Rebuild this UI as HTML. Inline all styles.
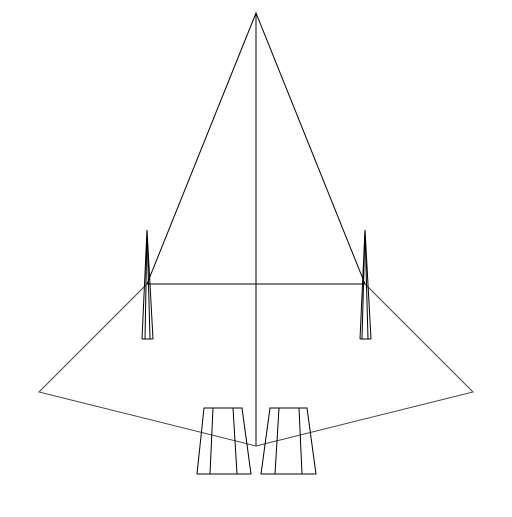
<!DOCTYPE html>
<html><head><style>html,body{margin:0;padding:0;background:#fff}</style></head>
<body>
<svg width="512" height="512" viewBox="0 0 512 512" stroke="#000" stroke-width="1" fill="none">
<g>
<polyline points="147,284 256,13 365,284" />
<line x1="147" y1="284" x2="365" y2="284" />
<line x1="256" y1="13" x2="256" y2="446" />
</g>
<g stroke="#444">
<polyline points="147,284 39,392 256,446" />
</g>
<g stroke="#444">
<polyline points="365,284 473,392 256,446" />
</g>
<g>
<line x1="147" y1="230" x2="142" y2="339"/>
<line x1="147" y1="230" x2="153" y2="339"/>
<line x1="147" y1="230" x2="145" y2="339"/>
<line x1="147" y1="230" x2="150" y2="339"/>
<line x1="142" y1="339" x2="153" y2="339"/>
</g>
<g>
<line x1="365" y1="230" x2="360" y2="339"/>
<line x1="365" y1="230" x2="371" y2="339"/>
<line x1="365" y1="230" x2="362" y2="339"/>
<line x1="365" y1="230" x2="368" y2="339"/>
<line x1="360" y1="339" x2="371" y2="339"/>
</g>
<g>
<polygon points="204,408 242,408 251,474 197,474"/>
<line x1="213" y1="408" x2="210" y2="474"/>
<line x1="233" y1="408" x2="237" y2="474"/>
</g>
<g>
<polygon points="270,408 307,408 316,474 261,474"/>
<line x1="279" y1="408" x2="275" y2="474"/>
<line x1="299" y1="408" x2="302" y2="474"/>
</g>
</svg>
</body></html>
